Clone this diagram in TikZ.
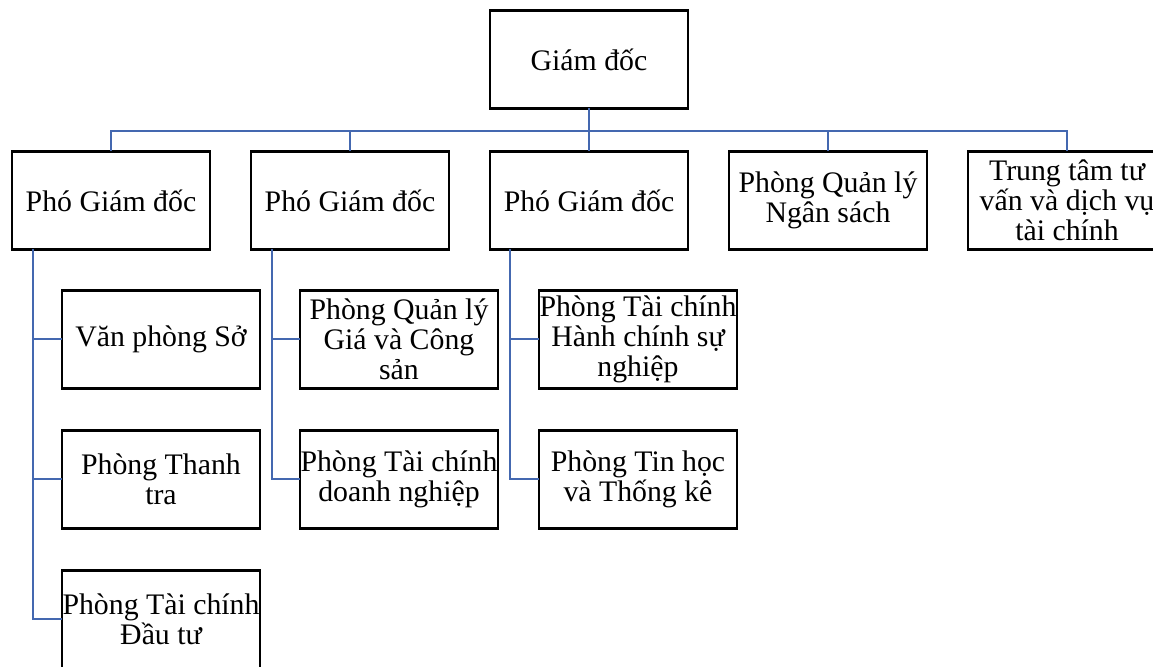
\documentclass[tikz,border=0pt]{standalone}
\usepackage{fontspec}
\setmainfont{Liberation Serif}
\usepackage{xcolor}
\usepackage{tikz}
\usetikzlibrary{positioning,calc}

\definecolor{linkblue}{RGB}{68,104,176}

\begin{document}
\begin{tikzpicture}[
  unit/.style={rectangle, draw, line width=1.2pt, minimum width=99pt, minimum height=49pt, inner xsep=0pt, inner ysep=0pt, outer sep=0pt, align=center, font=\fontsize{14.9pt}{15pt}\selectfont},
  link/.style={draw=linkblue, line width=1pt}
]
\path[use as bounding box, clip] (0,0) rectangle (576.5pt,-333.5pt);

% Director
\node[unit] (gd) at (294.5pt,-29.75pt) {Giám đốc};

% Deputies and offices under the director
\node[unit, below=21.5pt of gd] (pgd3) {Phó Giám đốc};
\node[unit, left=20.5pt of pgd3] (pgd2) {Phó Giám đốc};
\node[unit, left=20.5pt of pgd2] (pgd1) {Phó Giám đốc};
\node[unit, right=20.5pt of pgd3] (ns) {Phòng Quản lý\\Ngân sách};
\node[unit, right=20.5pt of ns] (ttdv) {Trung tâm tư\\vấn và dịch vụ\\tài chính};

% Departments, first deputy
\node[unit, below=20.5pt of pgd1.south west, anchor=north west, xshift=25pt] (vp) {Văn phòng Sở};
\node[unit, below=21pt of vp] (thtra) {Phòng Thanh\\tra};
\node[unit, below=21pt of thtra] (dt) {Phòng Tài chính\\Đầu tư};

% Departments, second deputy
\node[unit, below=20.5pt of pgd2.south west, anchor=north west, xshift=24.5pt] (gia) {Phòng Quản lý\\Giá và Công\\sản};
\node[unit, below=21pt of gia] (dn) {Phòng Tài chính\\doanh nghiệp};

% Departments, third deputy
\node[unit, below=20.5pt of pgd3.south west, anchor=north west, xshift=24.5pt] (hcsn) {Phòng Tài chính\\Hành chính sự\\nghiệp};
\node[unit, below=21pt of hcsn] (th) {Phòng Tin học\\và Thống kê};

% Bus under the director
\coordinate[below=11.5pt of gd.south] (bus);
\draw[link] (gd.south) -- (bus);
\foreach \n in {pgd1,pgd2,pgd3,ns,ttdv}
  \draw[link] (bus) -| (\n.north);

% Side spines
\foreach \c in {vp,thtra,dt}
  \draw[link] ([xshift=10.5pt]pgd1.south west) |- (\c.west);
\foreach \c in {gia,dn}
  \draw[link] ([xshift=10.5pt]pgd2.south west) |- (\c.west);
\foreach \c in {hcsn,th}
  \draw[link] ([xshift=10pt]pgd3.south west) |- (\c.west);

\end{tikzpicture}
\end{document}
